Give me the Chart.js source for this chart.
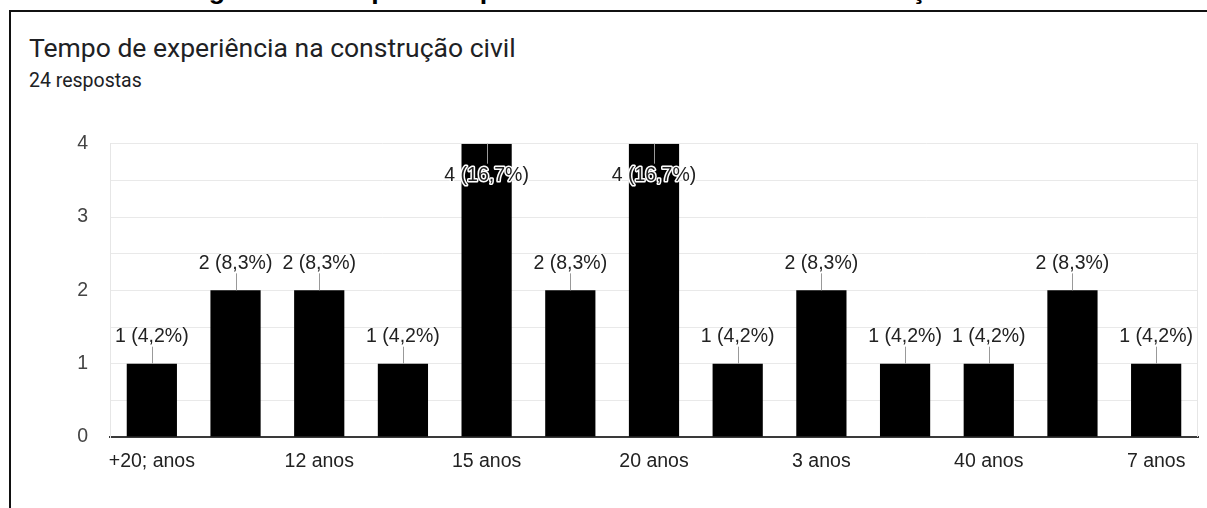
<!DOCTYPE html>
<html><head><meta charset="utf-8">
<script src="https://cdn.jsdelivr.net/npm/chart.js@4.4.0/dist/chart.umd.min.js"></script>
<style>
html,body{margin:0;padding:0;background:#fff;width:1207px;height:508px;overflow:hidden;position:relative}
#heading{position:absolute;left:185px;top:-23px;font:bold 26.7px "Liberation Sans",Arial,sans-serif;line-height:26.7px;white-space:nowrap;color:#000}
#frame{position:absolute;left:9px;top:10px;width:1300px;height:600px;border-top:2px solid #111;border-left:2px solid #111}
#title{position:absolute;left:29px;top:35px;font:26.5px Roboto,sans-serif;line-height:26px;color:#202124;white-space:nowrap}
#sub{position:absolute;left:29px;top:71px;font:19.5px Roboto,sans-serif;line-height:20px;color:#202124;white-space:nowrap}
#wrap{position:absolute;left:0;top:110px;width:1207px;height:398px}
</style></head>
<body>
<div id="heading">Figura 6 – Tempo de experiência dos técnicos na construção civil</div>
<div id="frame"></div>
<div id="title">Tempo de experiência na construção civil</div>
<div id="sub">24 respostas</div>
<div id="wrap"><canvas id="c"></canvas></div>
<script>
const categories = ["+20; anos","10 anos","12 anos","13 anos","15 anos","18 anos","20 anos","25 anos","3 anos","30 anos","40 anos","5 anos","7 anos"];
const counts = [1,2,2,1,4,2,4,1,2,1,1,2,1];
const yTickLabels = [0,1,2,3,4];
const totalResponses = 24;

const FONT = '"Liberation Sans", Arial, sans-serif';

const barLabels = {
  id: 'barLabels',
  afterDatasetsDraw(chart) {
    const ctx = chart.ctx, area = chart.chartArea;
    const meta = chart.getDatasetMeta(0);
    ctx.save();
    ctx.font = '19.5px ' + FONT;
    ctx.textAlign = 'center';
    ctx.textBaseline = 'middle';
    meta.data.forEach((bar, i) => {
      const v = counts[i];
      const txt = v + ' (' + (v / totalResponses * 100).toFixed(1).replace('.', ',') + '%)';
      const inside = bar.y - 40 < area.top;
      let y2, ty;
      if (inside) { y2 = bar.y + 20; ty = bar.y + 32; }
      else { y2 = bar.y - 17; ty = bar.y - 27; }
      const lx = Math.round(bar.x) + 0.5;
      ctx.strokeStyle = '#999';
      ctx.lineWidth = 1;
      ctx.beginPath(); ctx.moveTo(lx, bar.y); ctx.lineTo(lx, y2); ctx.stroke();
      if (inside) {
        ctx.lineWidth = 3; ctx.strokeStyle = '#fff'; ctx.lineJoin = 'round';
        ctx.strokeText(txt, bar.x, ty);
      }
      ctx.fillStyle = '#222';
      ctx.fillText(txt, bar.x, ty);
    });
    ctx.strokeStyle = '#e6e6e6';
    ctx.lineWidth = 1;
    ctx.beginPath();
    ctx.moveTo(Math.round(area.right) - 0.5, area.top);
    ctx.lineTo(Math.round(area.right) - 0.5, area.bottom);
    ctx.stroke();
    ctx.restore();
  }
};

new Chart(document.getElementById('c'), {
  type: 'bar',
  data: {
    labels: categories,
    datasets: [{
      data: counts,
      backgroundColor: '#000',
      borderWidth: 0,
      barPercentage: 0.6,
      categoryPercentage: 1.0
    }]
  },
  options: {
    responsive: true,
    maintainAspectRatio: false,
    animation: false,
    layout: { padding: { top: 33, right: 9, left: 0, bottom: 0 } },
    plugins: { legend: { display: false }, tooltip: { enabled: false } },
    scales: {
      x: {
        grid: { display: false, drawTicks: false },
        border: { display: true, color: '#3a3a3a', width: 2 },
        ticks: {
          autoSkip: false, maxRotation: 0, minRotation: 0, padding: 13,
          color: '#222', font: { family: FONT, size: 19.5 },
          callback: (val, idx) => (idx % 2 === 0 ? categories[idx] : '')
        },
        afterFit: s => { s.height = 71; }
      },
      y: {
        min: 0, max: 4,
        grid: { color: '#e9e9e9', lineWidth: 1, drawTicks: false },
        border: { display: true, color: '#e6e6e6', width: 1 },
        ticks: {
          stepSize: 0.5, padding: 22, color: '#444',
          font: { family: FONT, size: 19.5 },
          callback: v => (yTickLabels.includes(v) ? String(v) : '')
        },
        afterFit: s => { s.width = 110; }
      }
    }
  },
  plugins: [barLabels]
});
</script>
</body></html>
